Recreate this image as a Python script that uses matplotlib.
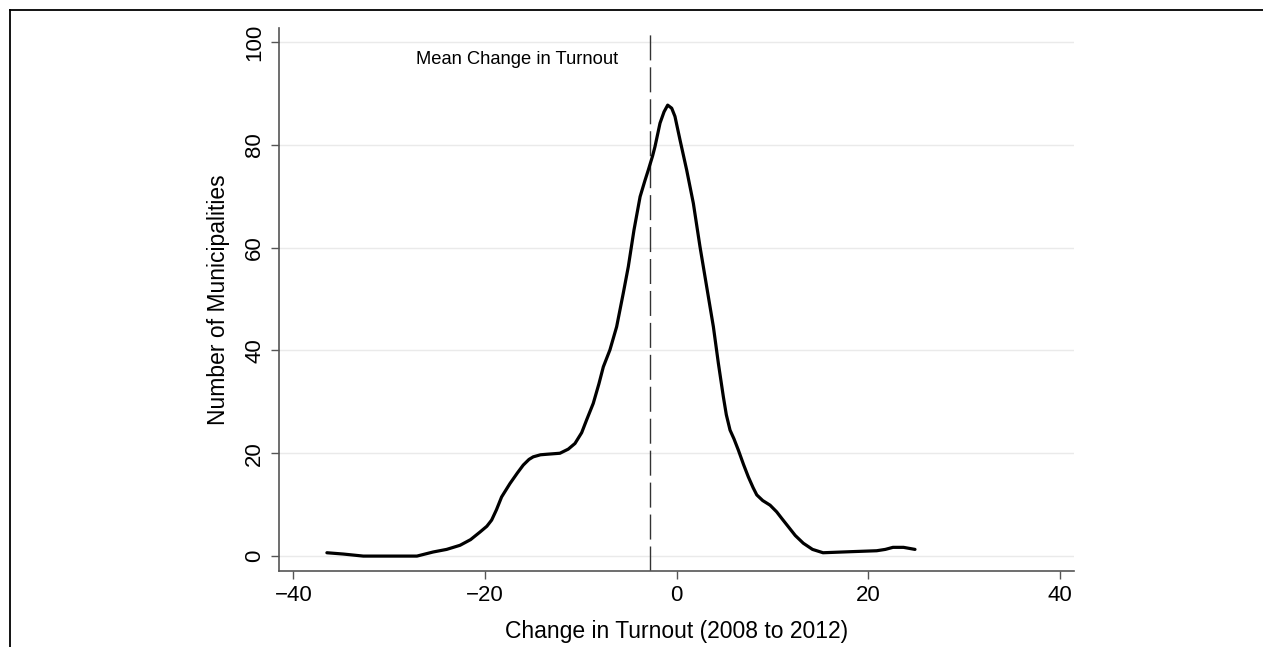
import matplotlib
matplotlib.use("Agg")
import matplotlib.pyplot as plt
from matplotlib.lines import Line2D

# Kernel density curve
turnout_change = [-36.5, -34.8, -32.7, -30.0, -27.1, -25.4, -24.0, -22.6, -21.5, -20.5, -19.8,
                  -19.3, -18.8, -18.26, -17.39, -16.6, -16.0, -15.4, -14.96, -14.2, -13.56,
                  -12.17, -11.3, -10.6, -9.9, -9.38, -8.69, -8.1,
                  -7.64, -6.95, -6.25, -5.56, -5.03, -4.44, -3.8, -3.3, -2.94, -2.5, -2.25,
                  -1.72, -1.3, -0.92, -0.5, -0.16, 0.37, 1.06, 1.76, 2.45, 3.15, 3.85, 4.37,
                  4.89, 5.2, 5.59, 6.0, 6.46, 7.0, 7.5, 8.0, 8.38, 9.0, 9.77, 10.46, 11.0,
                  11.68, 12.4, 13.24, 14.2, 15.3, 18.1, 20.9, 21.8, 22.6, 23.7, 24.9]
municipalities = [0.65, 0.4, 0.0, 0.0, 0.0, 0.8, 1.3, 2.1, 3.2, 4.7, 5.8,
                  7.0, 9.0, 11.5, 14.1, 16.2, 17.7, 18.8, 19.3, 19.7, 19.8,
                  20.0, 20.8, 21.9, 24.0, 26.5, 29.7, 33.5,
                  36.8, 40.1, 44.6, 51.1, 56.3, 63.4, 69.9, 73.0, 75.1, 77.8, 79.6,
                  84.2, 86.4, 87.7, 87.1, 85.5, 80.9, 75.1, 68.6, 60.2, 52.4, 44.6, 37.5,
                  31.0, 27.5, 24.5, 22.8, 20.6, 17.8, 15.4, 13.3, 11.9, 10.8, 9.9, 8.6, 7.3,
                  5.7, 4.0, 2.5, 1.3, 0.65, 0.85, 1.04, 1.3, 1.7, 1.7, 1.3]
mean_change = -2.77
x_ticks = [-40, -20, 0, 20, 40]
y_ticks = [0, 20, 40, 60, 80, 100]

plt.rcParams['font.family'] = ['Liberation Sans', 'DejaVu Sans']

fig = plt.figure(figsize=(12.63, 6.47), dpi=100)
W, H = 1263, 647
ax = fig.add_axes([279 / W, 1 - 571 / H, (1074 - 279) / W, (571 - 28) / H])

ax.set_xlim(-41.5, 41.5)
ax.set_ylim(-2.9, 102.7)

for yv in y_ticks:
    ax.axhline(yv, color='#eaeaea', lw=1.0, zorder=0)

ax.plot(turnout_change, municipalities, color='black', lw=2.3, solid_capstyle='round',
        solid_joinstyle='round', zorder=3)
ax.axvline(mean_change, color='#333333', lw=1.0, dashes=(18, 5), zorder=2)
ax.text(-6.1, 96.5, 'Mean Change in Turnout', ha='right', va='center', fontsize=13.2)

ax.set_xticks(x_ticks)
ax.set_xticklabels(['\u2212' + str(abs(v)) if v < 0 else str(v) for v in x_ticks])
ax.set_yticks(y_ticks)
ax.set_yticklabels([str(v) for v in y_ticks], rotation=90, va='center')

for s in ['top', 'right']:
    ax.spines[s].set_visible(False)
for s in ['left', 'bottom']:
    ax.spines[s].set_color('#555555')
    ax.spines[s].set_linewidth(1.2)
ax.tick_params(axis='both', direction='out', length=6, width=1.0, color='#555555',
               labelsize=16, pad=4)

ax.set_xlabel('Change in Turnout (2008 to 2012)', fontsize=16.5, labelpad=10)
ax.set_ylabel('Number of Municipalities', fontsize=16.5, labelpad=10)

# outer frame (top and left edges)
fig.add_artist(Line2D([10 / W, 1.0], [1 - 10 / H, 1 - 10 / H], color='black', lw=1.3,
                      transform=fig.transFigure))
fig.add_artist(Line2D([10 / W, 10 / W], [1 - 10 / H, 0.0], color='black', lw=1.3,
                      transform=fig.transFigure))

fig.savefig('out.png', dpi=100, facecolor='white')
